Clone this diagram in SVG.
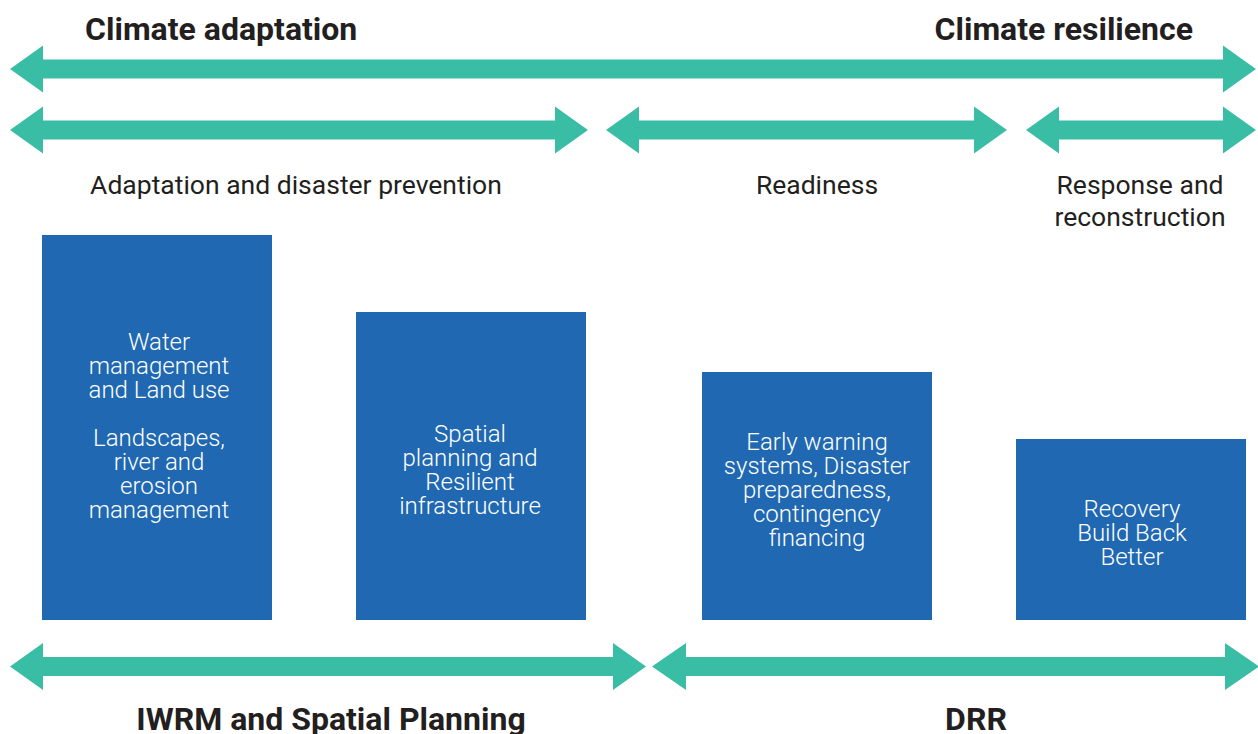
<svg xmlns="http://www.w3.org/2000/svg" width="1258" height="734" viewBox="0 0 1258 734">
<style>
.arr{fill:#3abda5}
.box{fill:#2068b2}
.title{font-family:Roboto,"Liberation Sans",sans-serif;font-weight:700;font-size:32px;fill:#231f20}
.lbl{font-family:Roboto,"Liberation Sans",sans-serif;font-weight:400;font-size:26.5px;fill:#231f20;text-anchor:middle}
.bt{font-family:Roboto,"Liberation Sans",sans-serif;font-weight:300;font-size:24px;fill:#ffffff;text-anchor:middle}
</style>
<rect width="1258" height="734" fill="#ffffff"/>
<g id="connectors">
<polygon class="arr" points="10,69 43,45.5 43,59.5 1223,59.5 1223,45.5 1256,69 1223,92.5 1223,78.5 43,78.5 43,92.5"/>
<polygon class="arr" points="10,130 43,106.5 43,120.5 555,120.5 555,106.5 588,130 555,153.5 555,139.5 43,139.5 43,153.5"/>
<polygon class="arr" points="606,130 639,106.5 639,120.5 974,120.5 974,106.5 1007,130 974,153.5 974,139.5 639,139.5 639,153.5"/>
<polygon class="arr" points="1026,130 1059,106.5 1059,120.5 1223,120.5 1223,106.5 1256,130 1223,153.5 1223,139.5 1059,139.5 1059,153.5"/>
<polygon class="arr" points="10,666.5 43,643 43,657 613,657 613,643 646,666.5 613,690 613,676 43,676 43,690"/>
<polygon class="arr" points="652,666.5 686,643 686,657 1225,657 1225,643 1259,666.5 1225,690 1225,676 686,676 686,690"/>
</g>
<g id="titles">
<text class="title" x="85" y="40">Climate adaptation</text>
<text class="title" x="1193" y="40" text-anchor="end">Climate resilience</text>
<text class="title" x="331" y="730" text-anchor="middle">IWRM and Spatial Planning</text>
<text class="title" x="976" y="730" text-anchor="middle">DRR</text>
</g>
<g id="phase-labels">
<text class="lbl" x="296" y="194">Adaptation and disaster prevention</text>
<text class="lbl" x="817" y="194">Readiness</text>
<text class="lbl" x="1140" y="194">Response and</text>
<text class="lbl" x="1140" y="226">reconstruction</text>
</g>
<g id="node-water">
<rect class="box" x="42" y="235" width="230" height="385"/>
<text class="bt" x="159" y="350">Water</text>
<text class="bt" x="159" y="374">management</text>
<text class="bt" x="159" y="398">and Land use</text>
<text class="bt" x="159" y="446">Landscapes,</text>
<text class="bt" x="159" y="470">river and</text>
<text class="bt" x="159" y="494">erosion</text>
<text class="bt" x="159" y="518">management</text>
</g>
<g id="node-spatial">
<rect class="box" x="356" y="312" width="230" height="308"/>
<text class="bt" x="470" y="442">Spatial</text>
<text class="bt" x="470" y="466">planning and</text>
<text class="bt" x="470" y="490">Resilient</text>
<text class="bt" x="470" y="514">infrastructure</text>
</g>
<g id="node-early">
<rect class="box" x="702" y="372" width="230" height="248"/>
<text class="bt" x="817" y="450">Early warning</text>
<text class="bt" x="817" y="474">systems, Disaster</text>
<text class="bt" x="817" y="498">preparedness,</text>
<text class="bt" x="817" y="522">contingency</text>
<text class="bt" x="817" y="546">financing</text>
</g>
<g id="node-recovery">
<rect class="box" x="1016" y="439" width="230" height="181"/>
<text class="bt" x="1132" y="517">Recovery</text>
<text class="bt" x="1132" y="541">Build Back</text>
<text class="bt" x="1132" y="565">Better</text>
</g>
</svg>
